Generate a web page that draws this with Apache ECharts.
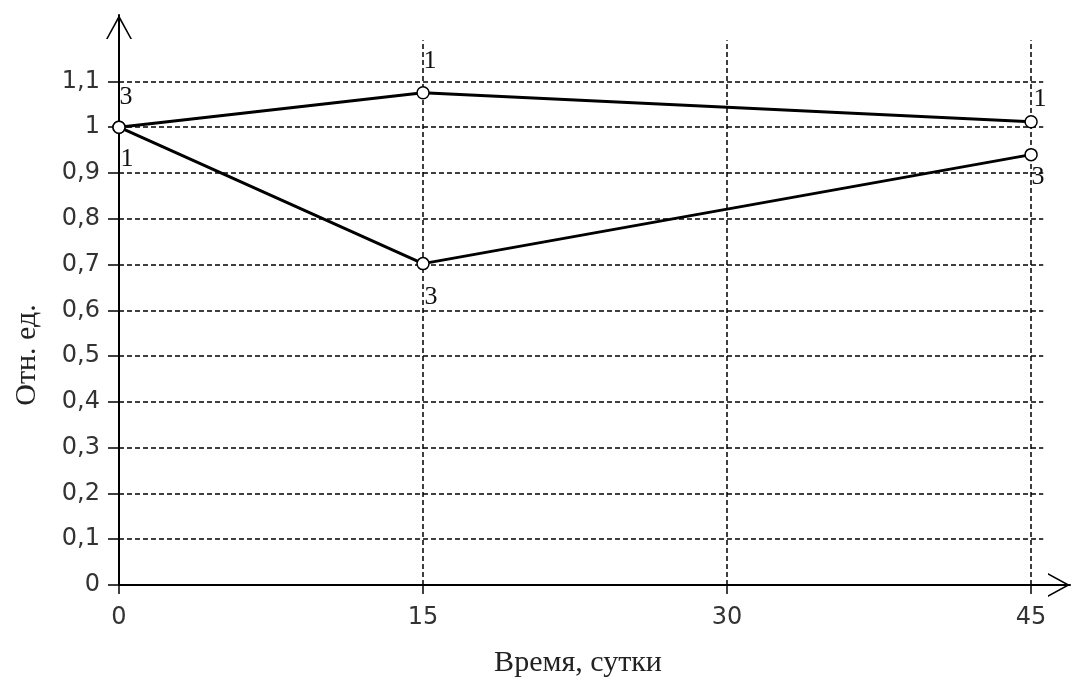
<!DOCTYPE html>
<html>
<head>
<meta charset="utf-8">
<script src="https://cdn.jsdelivr.net/npm/echarts@6/dist/echarts.min.js"></script>
<style>
  html, body { margin: 0; padding: 0; background: #fff; }
  #chart { width: 1073px; height: 677px; }
</style>
</head>
<body>
<div id="chart"></div>
<script>
// ---- data ----
const xValues = [0, 15, 45];
const seriesNames = ['1', '3'];
const series1 = [1.0, 1.075, 1.012];
const series3 = [1.0, 0.702, 0.94];
const xTickValues = [0, 15, 30, 45];
const yTickValues = [0, 0.1, 0.2, 0.3, 0.4, 0.5, 0.6, 0.7, 0.8, 0.9, 1.0, 1.1];
const hGridValues = [0.1, 0.2, 0.3, 0.4, 0.5, 0.6, 0.7, 0.8, 0.9, 1.0, 1.1];
const vGridValues = [15, 30, 45];
const xAxisTitle = 'Время, сутки';
const yAxisTitle = 'Отн. ед.';

// ---- layout / style ----
const X_MAX = 46.92, Y_MAX = 1.245;
const H_GRID_END = 45.6, V_GRID_TOP = 1.19;
const labelStyle1 = [
  { position: 'bottom', offset: [8, 7] },
  { position: 'top', offset: [7, -7] },
  { position: 'top', offset: [9, 2] }
];
const labelStyle3 = [
  { position: 'top', offset: [7, -5] },
  { position: 'bottom', offset: [8, 9] },
  { position: 'bottom', offset: [7, -2] }
];
const arrowPath = 'path://M0,24 L13,0 L26,24 L24.3,24 L13,3.6 L1.7,24 Z';

function buildSeries(name, values, labels) {
  return {
    name: name,
    type: 'line',
    data: xValues.map((x, i) => ({
      value: [x, values[i]],
      label: Object.assign({ show: true, formatter: name }, labels[i])
    })),
    symbol: 'circle',
    symbolSize: 12,
    lineStyle: { color: '#000', width: 3 },
    itemStyle: { color: '#fff', borderColor: '#000', borderWidth: 1.5 },
    label: { color: '#111', fontFamily: 'Liberation Serif', fontSize: 26 },
    z: 5,
    animation: false
  };
}

const gridLines = [];
hGridValues.forEach(y => gridLines.push([{ coord: [0, y] }, { coord: [H_GRID_END, y] }]));
vGridValues.forEach(x => gridLines.push([{ coord: [x, 0] }, { coord: [x, V_GRID_TOP] }]));

const fmt = v => String(v).replace('.', ',');

const option = {
  backgroundColor: '#fff',
  animation: false,
  grid: { left: 119, right: 3, top: 15, bottom: 92, containLabel: false },
  xAxis: {
    type: 'value', min: 0, max: X_MAX, interval: 15,
    axisLine: { lineStyle: { color: '#000', width: 2 }, symbol: ['none', arrowPath], symbolSize: [26, 22], symbolOffset: [0, -11] },
    axisTick: { show: true, length: 9, customValues: xTickValues, lineStyle: { color: '#000', width: 1.5 } },
    axisLabel: { customValues: xTickValues, margin: 21, color: '#333', fontFamily: 'DejaVu Sans', fontSize: 24, formatter: fmt },
    splitLine: { show: false }
  },
  yAxis: {
    type: 'value', min: 0, max: Y_MAX, interval: 0.1,
    axisLine: { show: true, lineStyle: { color: '#000', width: 2 }, symbol: ['none', arrowPath], symbolSize: [26, 24], symbolOffset: [0, -12] },
    axisTick: { show: true, length: 11, customValues: yTickValues, lineStyle: { color: '#000', width: 1.5 } },
    axisLabel: { customValues: yTickValues, margin: 19, color: '#333', fontFamily: 'DejaVu Sans', fontSize: 24, formatter: fmt },
    splitLine: { show: false }
  },
  graphic: [
    { type: 'text', x: 578, y: 663, style: { text: xAxisTitle, font: '30px "Liberation Serif"', fill: '#222', textAlign: 'center', textVerticalAlign: 'middle' } },
    { type: 'text', x: 27, y: 355, rotation: Math.PI / 2, style: { text: yAxisTitle, font: '30px "Liberation Serif"', fill: '#222', textAlign: 'center', textVerticalAlign: 'middle' } }
  ],
  series: [
    {
      type: 'line', data: [], silent: true, z: 1,
      markLine: {
        silent: true, symbol: ['none', 'none'], animation: false,
        label: { show: false },
        lineStyle: { color: '#000', type: [5, 3], width: 1.5 },
        data: gridLines
      }
    },
    buildSeries(seriesNames[0], series1, labelStyle1),
    buildSeries(seriesNames[1], series3, labelStyle3)
  ]
};

const chart = echarts.init(document.getElementById('chart'), null, { renderer: 'canvas' });
chart.setOption(option);
</script>
</body>
</html>
